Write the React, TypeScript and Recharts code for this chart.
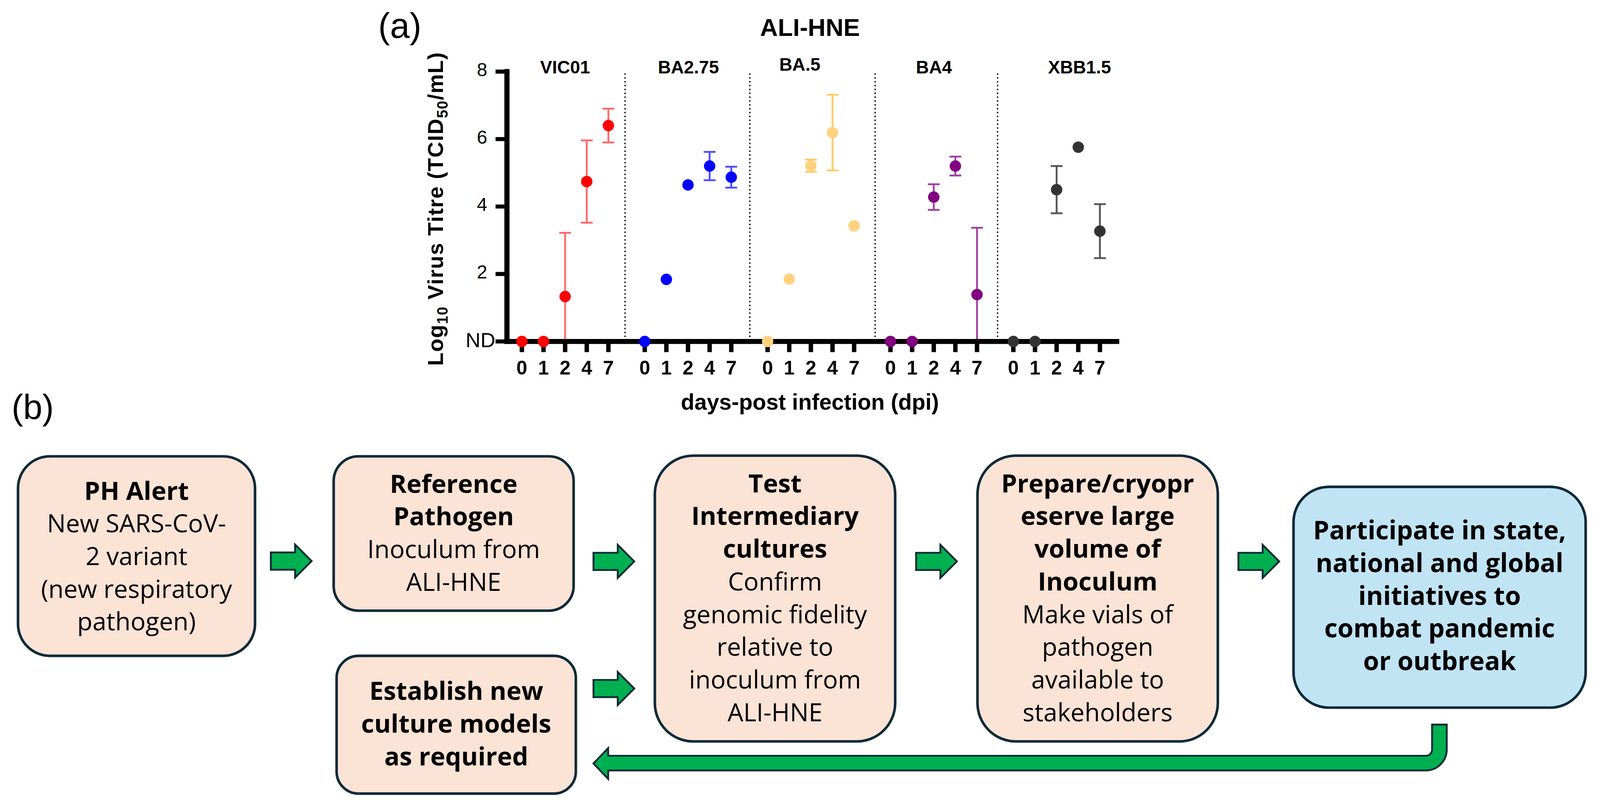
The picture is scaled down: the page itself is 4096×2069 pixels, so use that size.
import React from 'react';
import { ScatterChart, Scatter, XAxis, YAxis, ErrorBar, ReferenceLine, ReferenceDot } from 'recharts';

// everything is measured on the 4354 px wide reference, then scaled
const S = 4096 / 4354;
const s = (v: number) => v * S;

// ---- panel (a) data ----
const GROUPS = ['VIC01', 'BA2.75', 'BA.5', 'BA4', 'XBB1.5'];
const DAYS = ['0', '1', '2', '4', '7'];
const GROUP_STEP = 5.68; // distance between the first tick of two groups
const SEPARATORS = [4.77, 10.54, 16.33, 21.99];
const GROUP_LABEL_AT = [2, 2.02, 1.49, 2.01, 3.06];
const Y_TICKS = [0, 2, 4, 6, 8];

const GROUP_COLORS = ['#FF0000', '#0000FF', '#FFD27F', '#800080', '#333333'];
const ERROR_COLORS = ['#FF6A6A', '#4D4DFF', '#FFCB66', '#A040A0', '#555555'];

type Err = [number, number] | null;

const VIC01_MEAN = [0, 0, 1.33, 4.74, 6.4];
const VIC01_ERR: Err[] = [null, null, [1.33, 1.89], [1.22, 1.22], [0.5, 0.5]];
const BA275_MEAN = [0, 1.84, 4.64, 5.2, 4.87];
const BA275_ERR: Err[] = [null, null, null, [0.42, 0.42], [0.31, 0.31]];
const BA5_MEAN = [0, 1.85, 5.21, 6.19, 3.43];
const BA5_ERR: Err[] = [null, null, [0.18, 0.18], [1.12, 1.12], null];
const BA4_MEAN = [0, 0, 4.28, 5.2, 1.39];
const BA4_ERR: Err[] = [null, null, [0.38, 0.38], [0.28, 0.28], [1.39, 1.98]];
const XBB15_MEAN = [0, 0, 4.5, 5.76, 3.27];
const XBB15_ERR: Err[] = [null, null, [0.7, 0.7], null, [0.8, 0.8]];

const MEANS = [VIC01_MEAN, BA275_MEAN, BA5_MEAN, BA4_MEAN, XBB15_MEAN];
const ERRORS = [VIC01_ERR, BA275_ERR, BA5_ERR, BA4_ERR, XBB15_ERR];

const TICK_POS = GROUPS.flatMap((_, g) => DAYS.map((_, t) => g * GROUP_STEP + t));
const TICK_TEXT = GROUPS.flatMap(() => DAYS);

const seriesData = GROUPS.map((_, g) =>
  DAYS.map((_, t) => ({ x: g * GROUP_STEP + t, y: MEANS[g][t], err: ERRORS[g][t] }))
);

// plot box in reference px
const PLOT_L = 1379.5;
const PLOT_R = 3039;
const PLOT_T = 194.9;
const PLOT_B = 929.4;
const CHART_H = 1200;

const FONT_CHART = '"Liberation Sans", Arial, Helvetica, sans-serif';
const FONT_FLOW = '"Open Sans", "Noto Sans", sans-serif';

const XTick = (props: any) => {
  const { x, payload } = props;
  const i = TICK_POS.findIndex((p) => Math.abs(p - payload.value) < 1e-6);
  return (
    <text x={x} y={s(1019)} textAnchor="middle" fontFamily={FONT_CHART} fontWeight={700} fontSize={s(53)} fill="#000">
      {i >= 0 ? TICK_TEXT[i] : ''}
    </text>
  );
};

const YTick = (props: any) => {
  const { y, payload } = props;
  const nd = payload.value === 0;
  return (
    <text
      x={nd ? s(1348) : s(1326)}
      y={y + (nd ? s(15.5) : s(12.3))}
      textAnchor="end"
      fontFamily={FONT_CHART}
      fontSize={nd ? s(56) : s(51)}
      fill="#000"
    >
      {nd ? 'ND' : payload.value}
    </text>
  );
};

const GroupLabel = (props: any) => {
  const { viewBox, text, dy } = props;
  const cx = viewBox.x + viewBox.width / 2;
  const cy = viewBox.y + viewBox.height / 2;
  return (
    <text x={cx} y={cy + dy} textAnchor="middle" fontFamily={FONT_CHART} fontWeight={700} fontSize={s(49)} fill="#000">
      {text}
    </text>
  );
};

const VirusChart = () => (
  <ScatterChart
    width={4096}
    height={s(CHART_H)}
    margin={{ top: s(PLOT_T), right: s(4354 - PLOT_R), bottom: s(CHART_H - PLOT_B - 100), left: s(PLOT_L - 200) }}
  >
    <XAxis
      type="number"
      dataKey="x"
      domain={[-0.69, 27.5]}
      ticks={TICK_POS}
      interval={0}
      height={s(100)}
      tickSize={s(29)}
      tick={<XTick />}
      tickLine={{ stroke: '#000', strokeWidth: s(12) }}
      axisLine={{ stroke: '#000', strokeWidth: s(13.5), strokeLinecap: 'square' }}
    />
    <YAxis
      type="number"
      dataKey="y"
      domain={[0, 8]}
      ticks={Y_TICKS}
      interval={0}
      width={s(200)}
      tickSize={s(31)}
      tick={<YTick />}
      tickLine={{ stroke: '#000', strokeWidth: s(11) }}
      axisLine={{ stroke: '#000', strokeWidth: s(14), strokeLinecap: 'square' }}
    />
    {SEPARATORS.map((sx) => (
      <ReferenceLine
        key={sx}
        segment={[{ x: sx, y: 0.13 }, { x: sx, y: 8 }]}
        stroke="#000"
        strokeWidth={s(3.5)}
        strokeDasharray={`${s(4)} ${s(6.5)}`}
        ifOverflow="visible"
      />
    ))}
    {GROUPS.map((name, g) => (
      <Scatter
        key={name}
        name={name}
        data={seriesData[g]}
        isAnimationActive={false}
        shape={(p: any) => <circle cx={p.cx} cy={p.cy} r={s(15.5)} fill={GROUP_COLORS[g]} />}
      >
        <ErrorBar
          dataKey="err"
          direction="y"
          width={s(16)}
          stroke={ERROR_COLORS[g]}
          strokeWidth={s(5)}
          isAnimationActive={false}
        />
      </Scatter>
    ))}
    {GROUPS.map((name, g) => (
      <ReferenceDot
        key={'lbl' + name}
        x={g * GROUP_STEP + GROUP_LABEL_AT[g]}
        y={8}
        r={1}
        fill="none"
        stroke="none"
        ifOverflow="visible"
        label={<GroupLabel text={name} dy={name === 'BA.5' ? s(-2) : s(5)} />}
      />
    ))}
  </ScatterChart>
);

// ---- panel (b) flowchart ----
const PEACH = '#FBE3D6';
const BLUE = '#C1E4F5';
const EDGE = '#0E2A38';
const GREEN = '#00B050';
const LINE_STEP = 89;

type Line = [string, boolean];
const BOXES: { x: number; y: number; w: number; h: number; fill: string; first: number; size?: number; lines: Line[] }[] = [
  {
    x: 49, y: 1242, w: 645, h: 543, fill: PEACH, first: 1360,
    lines: [['PH Alert', true], ['New SARS-CoV-', false], ['2 variant', false], ['(new respiratory', false], ['pathogen)', false]],
  },
  {
    x: 908, y: 1242, w: 653, h: 420, fill: PEACH, first: 1341,
    lines: [['Reference', true], ['Pathogen', true], ['Inoculum from', false], ['ALI-HNE', false]],
  },
  {
    x: 916, y: 1785, w: 651, h: 375, fill: PEACH, first: 1905,
    lines: [['Establish new', true], ['culture models', true], ['as required', true]],
  },
  {
    x: 1782, y: 1240, w: 654, h: 778, fill: PEACH, first: 1340,
    lines: [
      ['Test', true], ['Intermediary', true], ['cultures', true], ['Confirm', false],
      ['genomic fidelity', false], ['relative to', false], ['inoculum from', false], ['ALI-HNE', false],
    ],
  },
  {
    x: 2660, y: 1240, w: 654, h: 778, fill: PEACH, first: 1340,
    lines: [
      ['Prepare/cryopr', true], ['eserve large', true], ['volume of', true], ['Inoculum', true],
      ['Make vials of', false], ['pathogen', false], ['available to', false], ['stakeholders', false],
    ],
  },
  {
    x: 3520, y: 1325, w: 795, h: 601, fill: BLUE, first: 1468, size: 70,
    lines: [['Participate in state,', true], ['national and global', true], ['initiatives to', true], ['combat pandemic', true], ['or outbreak', true]],
  },
];

// right-pointing block arrows: left x, centre y
const ARROWS: [number, number][] = [
  [737, 1527],
  [1615, 1528],
  [1615, 1874],
  [2493, 1528],
  [3370, 1528],
];

const arrowPoints = (x0: number, yc: number) =>
  [
    [x0, yc - 23.5], [x0 + 66, yc - 23.5], [x0 + 66, yc - 45], [x0 + 111, yc],
    [x0 + 66, yc + 45], [x0 + 66, yc + 23.5], [x0, yc + 23.5],
  ].map((p) => p.join(',')).join(' ');

const returnPath =
  'M 3897 1972 L 3937 1972 L 3937 2040 A 57 57 0 0 1 3880 2097 L 1655 2097 L 1655 2120 L 1615 2078 ' +
  'L 1655 2036 L 1655 2057 L 3880 2057 A 17 17 0 0 0 3897 2040 Z';

const Overlay = () => (
  <svg
    width={4096}
    height={2069}
    viewBox="0 0 4354 2199"
    style={{ position: 'absolute', left: 0, top: 0, pointerEvents: 'none' }}
  >
    <text x={1088} y={103} textAnchor="middle" fontFamily={FONT_CHART} fontSize={96} fill="#000">(a)</text>
    <text x={2204} y={98} textAnchor="middle" fontFamily={FONT_CHART} fontWeight={700} fontSize={67} fill="#000">ALI-HNE</text>
    <text
      x={1205}
      y={569}
      transform="rotate(-90 1205 569)"
      textAnchor="middle"
      fontFamily={FONT_CHART}
      fontWeight={700}
      fontSize={59}
      fill="#000"
      textLength={853}
      lengthAdjust="spacing"
    >
      <tspan>Log</tspan>
      <tspan fontSize={41} dy={13}>10</tspan>
      <tspan dy={-13}> Virus Titre (TCID</tspan>
      <tspan fontSize={41} dy={13}>50</tspan>
      <tspan dy={-13}>/mL)</tspan>
    </text>
    <text x={2204} y={1115} textAnchor="middle" fontFamily={FONT_CHART} fontWeight={700} fontSize={60.5} fill="#000">
      days-post infection (dpi)
    </text>

    <text x={89} y={1140} textAnchor="middle" fontFamily={FONT_CHART} fontSize={94} fill="#000">(b)</text>

    {BOXES.map((b, i) => (
      <g key={i}>
        <rect
          x={b.x}
          y={b.y}
          width={b.w}
          height={b.h}
          rx={Math.min(b.w, b.h) * 0.16}
          fill={b.fill}
          stroke={EDGE}
          strokeWidth={7}
        />
        {b.lines.map(([t, bold], j) => (
          <text
            key={j}
            x={b.x + b.w / 2}
            y={b.first + j * LINE_STEP}
            textAnchor="middle"
            fontFamily={FONT_FLOW}
            fontWeight={bold ? 700 : 400}
            fontSize={b.size ?? (bold ? 69 : 68)}
            fill="#000"
          >
            {t}
          </text>
        ))}
      </g>
    ))}

    {ARROWS.map(([x0, yc], i) => (
      <polygon key={i} points={arrowPoints(x0, yc)} fill={GREEN} stroke={EDGE} strokeWidth={5} strokeLinejoin="miter" />
    ))}
    <path d={returnPath} fill={GREEN} stroke={EDGE} strokeWidth={5} />
  </svg>
);

export default function App() {
  return (
    <div style={{ position: 'absolute', left: 0, top: 0, width: 4096, height: 2069, background: '#fff', overflow: 'hidden' }}>
      <div style={{ position: 'absolute', left: 0, top: 0 }}>
        <VirusChart />
      </div>
      <Overlay />
    </div>
  );
}
